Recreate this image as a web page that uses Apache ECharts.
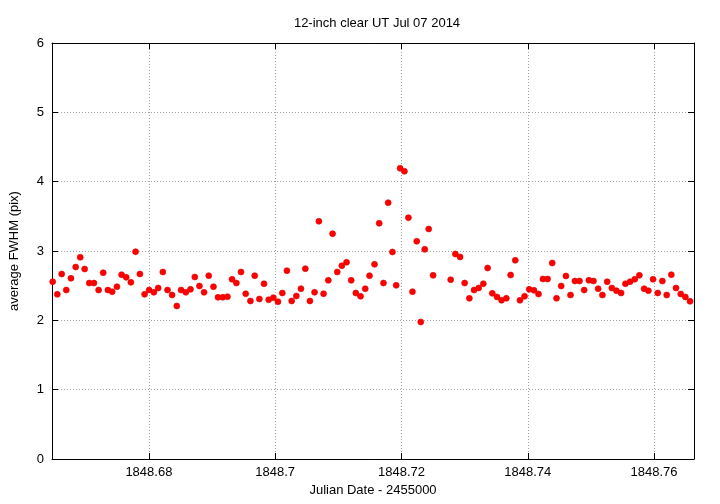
<!DOCTYPE html>
<html>
<head>
<meta charset="utf-8">
<script src="https://cdn.jsdelivr.net/npm/echarts@6/dist/echarts.min.js"></script>
<style>html,body{margin:0;padding:0;background:#fff}#c{width:720px;height:504px}</style>
</head>
<body>
<div id="c"></div>
<script>
// Julian Date - 2455000
var jd = [
1848.66477,1848.66550,1848.66619,1848.66692,1848.66766,1848.66841,1848.66913,1848.66983,1848.67056,1848.67130,
1848.67204,1848.67277,1848.67351,1848.67419,1848.67494,1848.67568,1848.67641,1848.67715,1848.67789,1848.67857,
1848.67932,1848.68004,1848.68079,1848.68147,1848.68221,1848.68295,1848.68368,1848.68442,1848.68510,1848.68585,
1848.68659,1848.68727,1848.68801,1848.68874,1848.68948,1848.69023,1848.69095,1848.69170,1848.69244,1848.69317,
1848.69386,1848.69459,1848.69533,1848.69608,1848.69676,1848.69750,1848.69823,1848.69897,1848.69971,1848.70044,
1848.70113,1848.70186,1848.70261,1848.70335,1848.70408,1848.70477,1848.70550,1848.70624,1848.70692,1848.70766,
1848.70841,1848.70909,1848.70983,1848.71056,1848.71130,1848.71204,1848.71277,1848.71351,1848.71426,1848.71494,
1848.71573,1848.71647,1848.71715,1848.71789,1848.71857,1848.71916,1848.71979,1848.72047,1848.72110,1848.72174,
1848.72242,1848.72305,1848.72368,1848.72431,1848.72501,
1848.72779,1848.72853,1848.72928,1848.73000,1848.73075,1848.73149,1848.73222,1848.73296,1848.73364,1848.73438,
1848.73513,1848.73585,1848.73660,1848.73728,1848.73802,1848.73876,1848.73949,1848.74023,
1848.74098,1848.74170,1848.74240,1848.74313,1848.74387,1848.74455,1848.74529,1848.74604,1848.74676,1848.74746,
1848.74819,1848.74893,1848.74967,1848.75040,1848.75114,1848.75182,1848.75257,1848.75331,1848.75404,1848.75478,
1848.75546,1848.75620,1848.75694,1848.75767,1848.75842,1848.75910,1848.75984,1848.76058,1848.76131,1848.76200,
1848.76273,1848.76347,1848.76422,1848.76495,1848.76569
];
// average FWHM (pix)
var fwhm = [
2.557,2.375,2.668,2.437,2.606,2.769,2.909,2.740,2.538,2.538,
2.437,2.687,2.437,2.413,2.485,2.658,2.620,2.548,2.990,2.668,
2.375,2.437,2.404,2.466,2.697,2.437,2.365,2.207,2.437,2.404,
2.447,2.625,2.495,2.404,2.644,2.485,2.332,2.332,2.341,2.592,
2.538,2.697,2.384,2.279,2.644,2.308,2.528,2.298,2.327,2.269,
2.394,2.716,2.279,2.351,2.456,2.745,2.279,2.404,3.428,2.384,
2.577,3.250,2.697,2.788,2.837,2.577,2.394,2.347,2.456,2.644,
2.808,3.400,2.538,3.697,2.986,2.505,4.193,4.150,3.481,2.413,
3.140,1.976,3.024,3.317,2.649,
2.586,2.957,2.914,2.538,2.317,2.437,2.466,2.528,2.755,2.389,
2.337,2.289,2.317,2.654,2.866,2.289,2.346,2.447,
2.433,2.380,2.596,2.596,2.827,2.318,2.495,2.640,2.365,2.567,
2.567,2.437,2.577,2.567,2.456,2.365,2.557,2.466,2.428,2.394,
2.528,2.557,2.592,2.649,2.456,2.428,2.592,2.394,2.567,2.365,
2.658,2.466,2.380,2.337,2.274
];
var xTicks = [1848.68, 1848.70, 1848.72, 1848.74, 1848.76];
var xTickLabels = ['1848.68', '1848.7', '1848.72', '1848.74', '1848.76'];
var xMin = 1848.66466, xMax = 1848.76632;
var yMin = 0, yMax = 6, yStep = 1;

var FONT = 'Liberation Sans';
var data = jd.map(function (x, i) { return [x, fwhm[i]]; });
var grid = { type: 'dotted', color: '#a0a0a0', width: 1, dashOffset: 0 };

var chart = echarts.init(document.getElementById('c'), null, { renderer: 'canvas' });
chart.setOption({
  animation: false,
  backgroundColor: '#fff',
  title: {
    text: '12-inch clear UT Jul 07 2014',
    left: 372, top: 12, textAlign: 'center',
    textStyle: { fontFamily: FONT, fontSize: 13, fontWeight: 'normal', color: '#000' }
  },
  grid: { left: 51, right: 26, top: 43, bottom: 45, containLabel: false },
  xAxis: [{
    type: 'value', min: xMin, max: xMax, position: 'bottom',
    name: 'Julian Date - 2455000', nameLocation: 'middle', nameGap: 25,
    nameTextStyle: { fontFamily: FONT, fontSize: 13, color: '#000' },
    axisLine: { show: true, lineStyle: { color: '#000', width: 1 } },
    axisTick: { show: true, inside: true, length: 6, customValues: xTicks, lineStyle: { color: '#000' } },
    axisLabel: { customValues: xTicks, margin: 7, fontFamily: FONT, fontSize: 13, color: '#000',
      formatter: function (v) { var i = xTicks.findIndex(function (t) { return Math.abs(t - v) < 1e-6; }); return i >= 0 ? xTickLabels[i] : ''; } },
    splitLine: { show: true, lineStyle: { type: [1, 2], color: '#a0a0a0', width: 1 } }
  }, {
    type: 'value', min: xMin, max: xMax, position: 'top',
    axisLine: { show: true, onZero: false, lineStyle: { color: '#000', width: 1 } },
    axisTick: { show: true, inside: true, length: 6, customValues: xTicks, lineStyle: { color: '#000' } },
    axisLabel: { show: false, customValues: xTicks },
    splitLine: { show: false }
  }],
  yAxis: [{
    type: 'value', min: yMin, max: yMax, interval: yStep, position: 'left',
    name: 'average FWHM (pix)', nameLocation: 'middle', nameGap: 31, nameRotate: 90,
    nameTextStyle: { fontFamily: FONT, fontSize: 13, color: '#000' },
    axisLine: { show: true, onZero: false, lineStyle: { color: '#000', width: 1 } },
    axisTick: { show: true, inside: true, length: 6, lineStyle: { color: '#000' } },
    axisLabel: { margin: 8, fontFamily: FONT, fontSize: 13, color: '#000' },
    splitLine: { show: true, lineStyle: { type: [1, 2], color: '#a0a0a0', width: 1 } }
  }, {
    type: 'value', min: yMin, max: yMax, interval: yStep, position: 'right',
    axisLine: { show: true, onZero: false, lineStyle: { color: '#000', width: 1 } },
    axisTick: { show: true, inside: true, length: 6, lineStyle: { color: '#000' } },
    axisLabel: { show: false },
    splitLine: { show: false }
  }],
  series: [{
    type: 'scatter',
    xAxisIndex: 0, yAxisIndex: 0,
    data: data,
    symbol: 'circle', symbolSize: 6,
    itemStyle: { color: '#ff0000', borderColor: '#e00000', borderWidth: 0.6, opacity: 1 },
    clip: false
  }]
});
</script>
</body>
</html>
